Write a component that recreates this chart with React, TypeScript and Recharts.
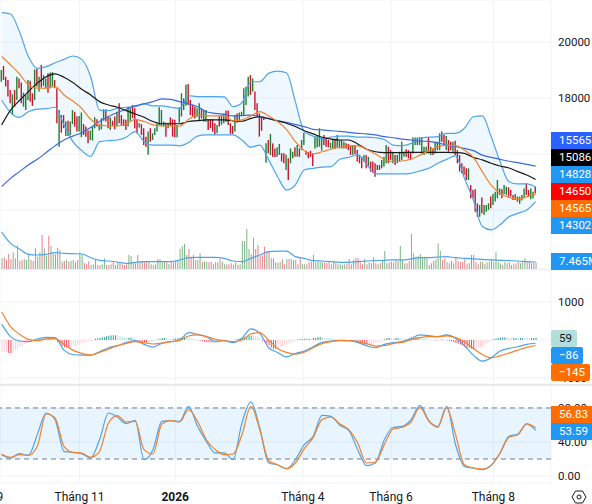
import React from "react";
import { Area, Bar, CartesianGrid, Cell, ComposedChart, Line, ReferenceArea, ReferenceLine, XAxis, YAxis } from "recharts";

// one candle per session, oldest first
const barHighs = [
  19000, 19140, 18760, 18640, 18290, 18130, 18290, 18760, 18700, 18550,
  18190, 18110, 18640, 18620, 18170, 19020, 19040, 18760, 19180, 18820,
  18700, 18880, 18910, 18930, 18640, 18350, 17570, 17390, 17390, 17160,
  17190, 17160, 17570, 17510, 17340, 17360, 17480, 17070, 16980, 16840,
  16840, 16980, 17310, 17240, 17040, 17280, 17600, 17600, 17340, 17310,
  17190, 17340, 17510, 17810, 17390, 17240, 17220, 17690, 17630, 17750,
  17630, 17240, 17100, 17070, 16920, 16620, 16800, 16920, 16740, 16920,
  17100, 17670, 17570, 17160, 17120, 17120, 17310, 17240, 17220, 17040,
  17670, 18170, 17990, 18470, 18500, 17930, 17750, 17690, 17630, 17810,
  17630, 17570, 17570, 17240, 17240, 17240, 17100, 17040, 17360, 17390,
  17450, 17550, 17550, 17100, 17000, 17390, 17450, 17480, 17510, 18350,
  18400, 18760, 18820, 18700, 18230, 17810, 17450, 17330, 17330, 16380,
  16500, 16715, 16380, 16200, 16240, 16360, 16030, 16030, 15970, 15850,
  16200, 16080, 16240, 16320, 16200, 16500, 16760, 16120, 16080, 16120,
  16030, 16600, 16680, 16920, 16560, 16680, 16560, 16500, 16400, 16500,
  16500, 16680, 16500, 16500, 16440, 16380, 16360, 16320, 16320, 16320,
  16140, 15970, 15900, 15960, 15960, 15900, 15730, 15730, 15670, 15610,
  15610, 15790, 15900, 16320, 16260, 16140, 16080, 15960, 15960, 16080,
  16440, 16080, 16170, 16140, 16080, 16590, 16590, 16590, 16590, 16590,
  16260, 16260, 16590, 16260, 16200, 16440, 16440, 16740, 16800, 16680,
  16640, 16500, 16440, 16440, 16470, 16140, 15960, 15670, 15550, 15490,
  15490, 14890, 14710, 14740, 14240, 14180, 14450, 14180, 14180, 14240,
  14480, 14570, 14650, 15070, 14770, 14740, 14890, 14830, 14810, 14710,
  14540, 14570, 14480, 14480, 14540, 14770, 14950, 14710, 14770, 14650, 14830,
];

const barLows = [
  18580, 18640, 18410, 18050, 17810, 17390, 17690, 17930, 18350, 17810,
  17690, 17570, 17930, 17870, 17720, 17930, 18410, 18230, 18380, 18430,
  18350, 18190, 18350, 18410, 18350, 17100, 16260, 16760, 16920, 16640,
  16640, 16680, 17070, 16980, 16800, 16800, 16600, 16680, 16620, 16380,
  16500, 16480, 16920, 16980, 16840, 16880, 17190, 17160, 16920, 16860,
  17000, 16880, 16980, 17100, 17040, 17000, 16860, 16980, 17190, 17280,
  16920, 16740, 16950, 16680, 16320, 16260, 15970, 16440, 16500, 16680,
  16800, 17040, 17000, 16980, 16620, 16920, 17000, 16620, 16600, 16600,
  17120, 17340, 17570, 17720, 17750, 17390, 17330, 17270, 17330, 17210,
  17270, 17150, 17150, 16860, 16920, 16800, 16680, 16740, 16980, 17040,
  17100, 17150, 17040, 16720, 16720, 16800, 17120, 17150, 17360, 17390,
  17750, 18050, 18110, 18230, 17570, 17330, 16620, 16830, 17215, 15690,
  16030, 15965, 15900, 15880, 15900, 15970, 15730, 15670, 15430, 15070,
  15670, 15850, 15900, 15900, 15900, 16140, 16320, 15970, 15850, 15900,
  15570, 16200, 16240, 16260, 16120, 16320, 16260, 16240, 16200, 16200,
  16200, 16240, 16200, 16200, 16200, 16200, 16140, 15970, 15970, 16000,
  15730, 15670, 15490, 15730, 15490, 15550, 15370, 15330, 15190, 15430,
  15430, 15490, 15550, 15670, 15670, 15790, 15670, 15610, 15670, 15730,
  15790, 15900, 15900, 15840, 15790, 16020, 16320, 16320, 16320, 16020,
  15960, 16020, 16020, 15960, 15960, 16020, 16140, 16140, 16440, 16320,
  16140, 16080, 16140, 16080, 15960, 15670, 15370, 15310, 15250, 15070,
  15070, 14420, 14420, 13940, 13760, 13760, 13880, 13820, 13940, 14000,
  14060, 14180, 14300, 14420, 14540, 14420, 14570, 14540, 14480, 14480,
  14360, 14360, 14300, 14220, 14340, 14420, 14540, 14480, 14380, 14420, 14600,
];

// g = up session, r = down session
const barDirs =
  "grrrrgrgrr" + "gggrrgrgrg" + "grggrrgrrg" + "rggrrggrrr" + "gggrgggrrg" +
  "rrgrrrrggr" + "rrgrrrgrgg" + "ggggrgrrrg" + "ggggrrrrgg" + "rggrrrrgrg" +
  "grrrrgrggg" + "ggrgrrrrrg" + "rgrrggrrgr" + "ggrgrggrrr" + "rggggrrrgg" +
  "rggggrrrgr" + "rrrgrgrrrg" + "rgggrrgrgg" + "ggrrrggggg" + "ggrgrgggrr" +
  "grrgrrrrrr" + "grrrrgrggg" + "rggggrggrr" + "rgrgggrrggr";

const volumes = [
  12.6, 13.8, 10.7, 17.8, 11.5, 19.8, 12.6, 27.7, 9.9, 10.7,
  11.9, 10.7, 18.6, 10.7, 9.5, 24.5, 14.6, 19.8, 40.3, 24.5,
  15.8, 39.1, 27.3, 18.6, 17.4, 25.3, 22.5, 8.7, 9.5, 10.7,
  8.7, 9.9, 10.7, 7.9, 10.7, 19.8, 16.6, 6.7, 5.5, 9.5,
  4.7, 5.5, 11.5, 4.7, 4.7, 5.5, 12.6, 4.7, 4.7, 5.5,
  7.9, 4.7, 7.9, 7.9, 5.5, 4.7, 5.5, 16.6, 15.4, 7.9,
  6.7, 16.6, 8.7, 9.5, 7.9, 9.5, 9.5, 5.5, 4.7, 5.5,
  11.9, 11.5, 7.9, 7.9, 8.7, 5.5, 9.5, 8.7, 9.5, 10.7,
  23.7, 27.3, 29.5, 16.6, 23.7, 14.6, 16.6, 10.7, 10.7, 18.6,
  8.7, 8.7, 8.7, 7.9, 8.7, 5.5, 7.9, 7.9, 11.9, 8.7,
  5.5, 5.5, 5.5, 6.7, 4.7, 7.9, 4.7, 5.5, 33.2, 33.2,
  47.4, 23.7, 17.4, 37.1, 23.7, 28.4, 15.8, 16.6, 26.5, 21.3,
  21.3, 12.6, 12.6, 7.9, 7.5, 8.7, 11.5, 5.5, 11.9, 11.9,
  11.9, 10.7, 10.7, 5.5, 12.6, 5.5, 5.5, 5.5, 7.9, 8.7,
  16.6, 7.9, 8.7, 8.7, 7.9, 7.9, 7.5, 7.9, 5.5, 7.9,
  7.5, 5.5, 5.5, 4.7, 5.5, 5.5, 11.9, 5.5, 10.7, 13.4,
  13.4, 7.9, 5.5, 11.9, 5.5, 7.9, 6.7, 13.8, 6.7, 5.5,
  6.7, 10.7, 21.3, 6.7, 7.9, 8.7, 7.9, 10.7, 9.5, 27.3,
  10.7, 6.7, 6.7, 9.5, 41.5, 18.6, 14.6, 15.8, 17.8, 13.4,
  14.6, 12.6, 4.7, 6.7, 9.5, 11.5, 30.4, 21.3, 10.7, 12.6,
  7.9, 6.7, 9.5, 6.7, 14.6, 9.5, 8.7, 8.7, 12.6, 5.5,
  6.7, 16.6, 16.6, 7.9, 5.5, 8.7, 8.7, 5.5, 7.9, 8.7,
  11.9, 8.7, 19.8, 8.7, 6.7, 4.7, 7.9, 6.7, 7.9, 4.7,
  5.5, 6.7, 8.7, 6.7, 7.9, 12.6, 7.9, 8.7, 6.7, 7.5, 7.465,
];

const macdHist = [
  -320, -310, -300, -340, -354, -320, -270, -230, -190, -160,
  -115, -90, -60, -30, -20, -10, 15, 20, 25, 30,
  35, 35, 30, 20, 10, -60, -100, -150, -190, -200,
  -210, -190, -170, -160, -130, -100, -70, -50, -30, -25,
  -15, -5, 30, 45, 60, 70, 80, 100, 115, 120,
  125, 125, 115, 100, 90, 75, 60, 60, 65, 50,
  25, -30, -50, -60, -65, -70, -70, -60, -50, -30,
  10, 30, 50, 55, 45, 20, 10, 25, 40, 50,
  60, 80, 85, 75, 60, 40, 25, 10, -5, -20,
  -30, -45, -55, -60, -65, -65, -60, -45, -30, -20,
  -15, -10, -10, -10, -5, 10, 25, 40, 60, 75,
  95, 105, 115, 110, 100, 75, 40, -20, -60, -90,
  -140, -200, -230, -240, -220, -180, -150, -130, -115, -100,
  -60, -30, -10, 20, 20, 25, 30, 30, 35, 25,
  50, 60, 70, 80, 70, 60, 50, 45, 35, 25,
  15, 10, 5, 0, -10, -5, -10, -20, -40, -60,
  -70, -90, -100, -110, -120, -115, -110, -100, -80, -60,
  -40, -20, 25, 50, 55, 50, 40, 50, 55, 45,
  35, 30, 20, 25, 40, 55, 70, 75, 70, 55,
  40, 25, 15, 5, -5, -10, -5, 5, 10, 5,
  -10, -20, -30, -50, -80, -100, -120, -140, -170, -190,
  -210, -230, -240, -230, -210, -190, -170, -130, -90, -50,
  -15, 20, 40, 55, 65, 70, 75, 70, 55, 45,
  50, 55, 50, 50, 60, 55, 50, 45, 50, 55, 59,
];

const lineStep = 4;

const bbUpper = [
  21050, 21000, 20370, 19480, 19060, 19120, 19260, 19380, 19500, 19380, 18760, 17570, 17550, 17630, 17670, 17690,
  17790, 17720, 17720, 17670, 17630, 18080, 18050, 18050, 18050, 18040, 17690, 17830, 18580, 18580, 18880, 18960,
  18900, 17870, 16800, 16640, 16560, 16600, 16640, 16640, 16600, 16600, 16580, 16520, 16320, 16300, 16380, 16580,
  16600, 16620, 16740, 16740, 16920, 17330, 17360, 16620, 15730, 15010, 14930, 14930, 14828,
];
const bbLower = [
  17930, 17480, 17310, 17510, 17600, 17620, 17670, 17040, 16440, 16120, 15910, 16440, 16480, 16500, 16600, 16800,
  16440, 16320, 16320, 16320, 16290, 16410, 16640, 16680, 16680, 16680, 16680, 16500, 16240, 16320, 15790, 15190,
  14720, 14900, 15430, 15490, 15530, 15550, 15810, 15880, 15970, 15640, 15290, 15290, 15290, 15290, 15310, 15400,
  15490, 15670, 15810, 15930, 15130, 14360, 13410, 13290, 13470, 13760, 13880, 14000, 14302,
];
const bbBasis = [
  19480, 19180, 18860, 18470, 18350, 18350, 18410, 18110, 17890, 17630, 17240, 17040, 17000, 17000, 17070, 17240,
  17160, 17040, 17000, 17000, 17000, 17240, 17390, 17360, 17360, 17360, 17180, 17220, 17360, 17510, 17360, 17160,
  16880, 16440, 16120, 16000, 16080, 16170, 16240, 16290, 16290, 16170, 16000, 15810, 15730, 15750, 15820, 15960,
  16120, 16260, 16310, 16300, 16140, 15880, 15370, 14890, 14600, 14450, 14390, 14480, 14565,
];
const maBlack = [
  17040, 17570, 17910, 18230, 18530, 18760, 18860, 18740, 18550, 18310, 18110, 17870, 17750, 17670, 17550, 17430,
  17310, 17160, 17080, 17080, 17080, 17160, 17190, 17220, 17220, 17220, 17180, 17170, 17270, 17330, 17260, 17180,
  17100, 16980, 16830, 16720, 16600, 16530, 16500, 16500, 16360, 16170, 16080, 16050, 16050, 16050, 16060, 16060,
  16060, 16060, 16060, 16050, 16020, 15880, 15790, 15670, 15570, 15500, 15370, 15250, 15086,
];
const maBlue = [
  14840, 15130, 15370, 15610, 15810, 16050, 16290, 16500, 16640, 16760, 16950, 17160, 17340, 17480, 17600, 17720,
  17790, 17870, 17970, 17950, 17870, 17790, 17690, 17510, 17450, 17420, 17360, 17370, 17390, 17330, 17270, 17190,
  17130, 17050, 16980, 16880, 16860, 16830, 16810, 16770, 16740, 16720, 16680, 16620, 16580, 16530, 16500, 16460,
  16450, 16400, 16320, 16260, 16200, 16120, 15960, 15880, 15810, 15740, 15690, 15630, 15565,
];
const volumeMa = [
  43.8, 30.4, 23.7, 17.4, 16.6, 17.4, 19.4, 18.6, 18.2, 17.8, 13.4, 10.3, 9.5, 8.3, 6.7, 7.9,
  8.7, 8.7, 8.7, 8.7, 10.7, 13.4, 13.8, 13.8, 13.8, 12.6, 9.5, 8.7, 12.6, 16.6, 20.5, 21.3,
  21.3, 14.6, 12.6, 9.9, 9.5, 8.7, 7.9, 7.9, 8.7, 9.5, 9.9, 10.3, 10.7, 10.7, 11.9, 13.4,
  13.4, 14.2, 14.6, 13.4, 12.6, 11.9, 11.5, 10.7, 10.3, 9.9, 9.5, 8.7, 8.3,
];
const macdLine = [
  416, 89, -27, -44, 27, 71, 62, -266, -381, -398, -398, -310, -204, -150, -71, -18,
  -115, -186, -89, -44, 0, 195, 150, 89, -44, -18, -71, 44, 292, 177, -204, -327,
  -443, -354, -292, -177, -62, -27, -9, -18, -62, -150, -204, -115, -71, -44, 44, 133,
  115, 89, 133, 44, -150, -398, -558, -469, -292, -221, -177, -115, -86,
];
const macdSignal = [
  735, 354, 150, 18, -18, 27, 35, -115, -266, -354, -398, -327, -239, -150, -89, -44,
  -71, -106, -80, -44, -9, 106, 133, 89, 18, -18, -44, 0, 159, 195, 0, -221,
  -327, -372, -319, -204, -97, -44, -18, -18, -44, -97, -159, -150, -89, -62, 9, 62,
  89, 89, 106, 62, -44, -221, -381, -469, -416, -345, -266, -195, -145,
];
const stochK = [
  25.1, 21.2, 26.3, 24.3, 48.6, 74.1, 66.3, 29, 27.8, 26.3, 21.2, 42.7, 74.1, 69.4, 61.6, 65.5,
  19.2, 31, 64.3, 65.1, 64.3, 82, 58.4, 40.8, 27.1, 27.1, 19.2, 62.4, 87.1, 56.5, 15.3, 12.9,
  8.6, 19.2, 36.9, 46.7, 71.4, 70.2, 59.6, 53.7, 31, 12.2, 15.3, 42.7, 57.3, 58.4, 66.3, 83.1,
  65.1, 58.4, 82, 36.9, 11.4, 9.4, 7.5, 12.5, 27.1, 46.7, 49.4, 61.2, 53.59,
];
const stochD = [
  25.9, 22, 25.1, 24.3, 34.9, 72.9, 68.2, 34.9, 27.8, 27.1, 22, 29, 62.4, 71, 63.5, 64.3,
  31, 25.9, 61.2, 65.1, 63.5, 78, 64.3, 42.7, 31, 25.1, 25.9, 48.6, 82, 54.5, 18, 13.3,
  8.6, 15.3, 32.2, 45.5, 66.3, 69.4, 61.2, 54.5, 38.8, 15.3, 16.5, 36.9, 55.3, 57.3, 63.5, 80.8,
  64.3, 57.3, 80, 48.6, 13.3, 9.4, 8.2, 12.5, 27.1, 45.5, 48.6, 61.2, 56.83,
];

const priceTicks = [14000, 16000, 18000, 20000];
const macdTicks = [-1000, 0, 1000];
const stochTicks = [0, 40, 80];
// session index of the first bar of each month, and its label
const monthTicks = [-9, 35, 78, 135.4, 175, 221];
const monthLabels = ["Tháng 9", "Tháng 11", "2026", "Tháng 4", "Tháng 6", "Tháng 8"];

const UP = "#1f7f2e";
const DOWN = "#c8142b";
const VOL_UP = "#7db685";
const VOL_DOWN = "#e08286";
const BB = "#4fa3ea";
const ORANGE = "#f1812d";
const GRID = "#f0f3fa";
const TEXT = "#131722";
const FONT = "Roboto, sans-serif";
const FONT_SIZE = 11.5;

const xDomain: [number, number] = [-0.75, 246.9];
const CHART_W = 592;
const AXIS_W = 41;
const noMargin = { top: 0, right: 0, bottom: 0, left: 0 };
const axisTick = { fill: TEXT, fontSize: FONT_SIZE, fontFamily: FONT };

const barRows = barHighs.map((high, i) => ({ x: i, range: [barLows[i], high], vol: volumes[i], hist: macdHist[i] }));

const lineRows = bbUpper.map((upper, n) => ({
  x: n * lineStep,
  upper,
  lower: bbLower[n],
  band: [bbLower[n], upper],
  basis: bbBasis[n],
  black: maBlack[n],
  blue: maBlue[n],
  volMa: volumeMa[n],
  macd: macdLine[n],
  signal: macdSignal[n],
  k: stochK[n],
  d: stochD[n],
}));

function histColor(i: number) {
  const prev = i > 0 ? macdHist[i - 1] : macdHist[i];
  if (macdHist[i] >= 0) return macdHist[i] >= prev ? "#26a69a" : "#b2dfdb";
  return macdHist[i] >= prev ? "#ffcdd2" : "#e8505b";
}

function TimeTick({ x, y, payload, index }: any) {
  const label = monthLabels[index] ?? "";
  return (
    <text
      x={x}
      y={y + 10}
      textAnchor="middle"
      fill={TEXT}
      fontSize={12}
      fontFamily={FONT}
      fontWeight={payload.value === 78 ? 700 : 400}
    >
      {label}
    </text>
  );
}

function Tag({ top, text, bg, color = "#fff", width = 41, radius = 0 }: { top: number; text: string; bg: string; color?: string; width?: number; radius?: number }) {
  return (
    <div
      style={{
        position: "absolute",
        left: 551,
        top,
        width,
        height: 17,
        lineHeight: "17px",
        background: bg,
        color,
        fontSize: FONT_SIZE,
        fontFamily: FONT,
        paddingLeft: 8,
        boxSizing: "border-box",
        whiteSpace: "nowrap",
        overflow: "hidden",
        borderRadius: radius,
      }}
    >
      {text}
    </div>
  );
}

function SeriesLine({ dataKey, stroke }: { dataKey: string; stroke: string }) {
  return (
    <Line
      data={lineRows}
      dataKey={dataKey}
      type="monotone"
      stroke={stroke}
      strokeWidth={1.2}
      dot={false}
      activeDot={false}
      isAnimationActive={false}
    />
  );
}

export default function App() {
  return (
    <div style={{ position: "absolute", left: 0, top: 0, width: 592, height: 504, overflow: "hidden", background: "#fff" }}>
      <div style={{ position: "absolute", left: 0, top: 0 }}>
        <ComposedChart width={CHART_W} height={269} data={barRows} margin={noMargin}>
          <CartesianGrid stroke={GRID} />
          <XAxis dataKey="x" type="number" domain={xDomain} allowDataOverflow ticks={monthTicks} hide />
          <YAxis orientation="right" width={AXIS_W} domain={[11893, 21500]} allowDataOverflow ticks={priceTicks} tick={axisTick} tickLine={false} axisLine={false} tickMargin={1} interval={0} />
          <Area data={lineRows} dataKey="band" type="monotone" stroke="none" fill="#2196f3" fillOpacity={0.07} activeDot={false} isAnimationActive={false} />
          <Bar dataKey="range" barSize={1.4} isAnimationActive={false}>
            {barRows.map((row) => (
              <Cell key={row.x} fill={barDirs[row.x] === "g" ? UP : DOWN} />
            ))}
          </Bar>
          {SeriesLine({ dataKey: "upper", stroke: BB })}
          {SeriesLine({ dataKey: "lower", stroke: BB })}
          {SeriesLine({ dataKey: "blue", stroke: "#3d68e0" })}
          {SeriesLine({ dataKey: "black", stroke: "#1a1a1a" })}
          {SeriesLine({ dataKey: "basis", stroke: ORANGE })}
        </ComposedChart>
      </div>

      <div style={{ position: "absolute", left: 0, top: 219 }}>
        <ComposedChart width={CHART_W} height={50} data={barRows} margin={noMargin}>
          <XAxis dataKey="x" type="number" domain={xDomain} allowDataOverflow hide />
          <YAxis orientation="right" width={AXIS_W} domain={[0, 59.25]} allowDataOverflow tick={false} tickLine={false} axisLine={false} />
          <Bar dataKey="vol" barSize={1} isAnimationActive={false}>
            {barRows.map((row) => (
              <Cell key={row.x} fill={barDirs[row.x] === "g" ? VOL_UP : VOL_DOWN} />
            ))}
          </Bar>
          {SeriesLine({ dataKey: "volMa", stroke: BB })}
        </ComposedChart>
      </div>

      <div style={{ position: "absolute", left: 0, top: 270 }}>
        <ComposedChart width={CHART_W} height={114} data={barRows} margin={noMargin}>
          <CartesianGrid stroke={GRID} />
          <XAxis dataKey="x" type="number" domain={xDomain} allowDataOverflow ticks={monthTicks} hide />
          <YAxis orientation="right" width={AXIS_W} domain={[-1158, 1842]} allowDataOverflow ticks={macdTicks} tick={axisTick} tickLine={false} axisLine={false} tickMargin={1} interval={0} />
          <Bar dataKey="hist" barSize={1} isAnimationActive={false}>
            {barRows.map((row) => (
              <Cell key={row.x} fill={histColor(row.x)} />
            ))}
          </Bar>
          {SeriesLine({ dataKey: "macd", stroke: BB })}
          {SeriesLine({ dataKey: "signal", stroke: ORANGE })}
        </ComposedChart>
      </div>

      <div style={{ position: "absolute", left: 0, top: 385 }}>
        <ComposedChart width={CHART_W} height={119} data={barRows} margin={noMargin}>
          <CartesianGrid stroke={GRID} />
          <ReferenceArea y1={20} y2={80} fill="#2196f3" fillOpacity={0.1} stroke="none" />
          <ReferenceLine y={80} stroke="#787b86" strokeDasharray="5 4" />
          <ReferenceLine y={20} stroke="#787b86" strokeDasharray="5 4" />
          <XAxis dataKey="x" type="number" domain={xDomain} allowDataOverflow ticks={monthTicks} interval={0} height={21} tick={<TimeTick />} tickLine={false} axisLine={false} />
          <YAxis orientation="right" width={AXIS_W} domain={[-8.2, 107]} allowDataOverflow ticks={stochTicks} tick={axisTick} tickLine={false} axisLine={false} tickMargin={1} interval={0} tickFormatter={(v: number) => v.toFixed(2)} />
          {SeriesLine({ dataKey: "k", stroke: BB })}
          {SeriesLine({ dataKey: "d", stroke: ORANGE })}
        </ComposedChart>
      </div>

      <div style={{ position: "absolute", left: 0, top: 269, width: 592, height: 1, background: "#eef0f4" }} />
      <div style={{ position: "absolute", left: 0, top: 384, width: 592, height: 2, background: "#e8e9ec" }} />

      <Tag top={132} text="15565" bg="#2962ff" />
      <Tag top={149} text="15086" bg="#000" />
      <Tag top={166} text="14828" bg="#2196f3" />
      <Tag top={183} text="14650" bg="#ff0000" />
      <Tag top={200} text="14565" bg="#ff6d00" />
      <Tag top={217} text="14302" bg="#2196f3" />
      <Tag top={253} text="7.465M" bg="#2196f3" />
      <Tag top={330} text="59" bg="#b2dfdb" color={TEXT} width={26} radius={2} />
      <Tag top={347} text="−86" bg="#2196f3" width={32} radius={2} />
      <Tag top={364} text="−145" bg="#ff6d00" width={39} radius={2} />
      <Tag top={406} text="56.83" bg="#ff6d00" />
      <Tag top={423} text="53.59" bg="#2196f3" />

      <svg style={{ position: "absolute", left: 571, top: 489 }} width={16} height={16} viewBox="0 0 16 16" fill="none" stroke={TEXT} strokeWidth={1}>
        <path d="M4.5 2h7l3.5 6-3.5 6h-7L1 8z" />
        <circle cx={8} cy={8} r={2} />
      </svg>
    </div>
  );
}
